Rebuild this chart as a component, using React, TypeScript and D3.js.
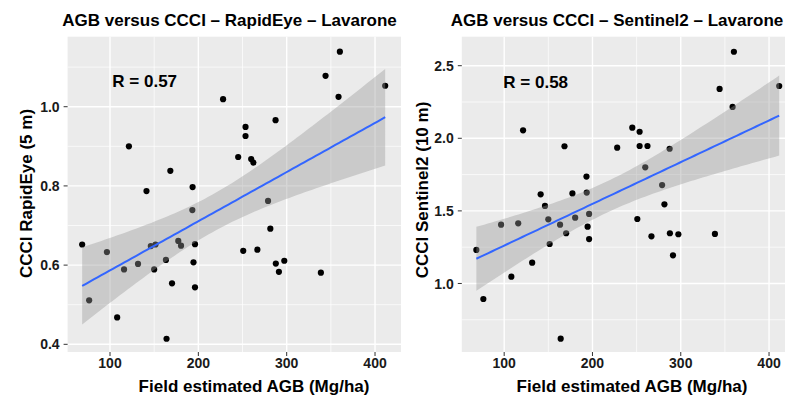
import React from "react";
import * as d3 from "d3";

// field estimated AGB (Mg/ha), one value per plot, shared by both panels
const agb = [
  68.5, 76.4, 96.5, 108.1, 115.9, 121.4, 131.7, 141.3, 146.2, 150.0, 151.5,
  163.3, 164.0, 168.3, 170.2, 177.3, 180.4, 193.2, 193.5, 194.5, 196.2, 196.2,
  228.0, 245.1, 250.8, 253.4, 253.4, 259.8, 262.3, 266.8, 278.9, 281.5, 287.4,
  287.7, 291.2, 297.3, 338.7, 344.0, 358.7, 360.2, 411.5,
];

const ccciRapidEye = [
  0.652, 0.511, 0.633, 0.468, 0.589, 0.9, 0.603, 0.787, 0.648, 0.589, 0.652,
  0.613, 0.414, 0.838, 0.554, 0.661, 0.649, 0.739, 0.797, 0.607, 0.653, 0.544,
  1.019, 0.873, 0.636, 0.949, 0.926, 0.868, 0.859, 0.639, 0.762, 0.692, 0.966,
  0.604, 0.583, 0.611, 0.581, 1.078, 1.025, 1.139, 1.053,
];

const ccciSentinel2 = [
  1.231, 0.893, 1.405, 1.047, 1.414, 2.055, 1.143, 1.614, 1.534, 1.442, 1.272,
  1.405, 0.62, 1.945, 1.346, 1.62, 1.453, 1.736, 1.626, 1.391, 1.479, 1.306,
  1.935, 2.073, 1.444, 2.045, 1.947, 1.8, 1.947, 1.325, 1.678, 1.545, 1.928,
  1.346, 1.194, 1.339, 1.341, 2.34, 2.216, 2.596, 2.36,
];

const xTicks = [100, 200, 300, 400];
const xMinor = [150, 250, 350];
const rapidEyeTicks = [0.4, 0.6, 0.8, 1.0];
const rapidEyeMinor = [0.5, 0.7, 0.9, 1.1];
const sentinelTicks = [1.0, 1.5, 2.0, 2.5];
const sentinelMinor = [0.75, 1.25, 1.75, 2.25];

const FONT = "'Liberation Sans', Arial, sans-serif";

// ordinary least squares + 95% confidence band (like geom_smooth(method = "lm"))
function fitLm(xs: number[], ys: number[]) {
  const n = xs.length;
  const mx = d3.mean(xs)!;
  const my = d3.mean(ys)!;
  let sxx = 0, sxy = 0;
  xs.forEach((x, i) => {
    sxx += (x - mx) ** 2;
    sxy += (x - mx) * (ys[i] - my);
  });
  const b = sxy / sxx;
  const a = my - b * mx;
  const sse = d3.sum(xs, (x, i) => (ys[i] - a - b * x) ** 2);
  const s = Math.sqrt(sse / (n - 2));
  const t = 2.0227; // qt(0.975, 39)
  const grid = d3.range(80).map((i) => {
    const x = d3.min(xs)! + (i / 79) * (d3.max(xs)! - d3.min(xs)!);
    const fit = a + b * x;
    const se = s * Math.sqrt(1 / n + (x - mx) ** 2 / sxx);
    return { x, fit, lo: fit - t * se, hi: fit + t * se };
  });
  return grid;
}

type PanelProps = {
  ys: number[];
  left: number;
  right: number;
  yDomain: [number, number];
  yTicks: number[];
  yMinor: number[];
  title: string;
  titleX: number;
  yTitle: string;
  yTitleX: number;
  yTitleY: number;
  xTitleX: number;
  rLabel: string;
  rLabelX: number;
  rLabelY: number;
};

const TOP = 36.7;
const BOTTOM = 352;

function Panel(p: PanelProps) {
  const x = d3.scaleLinear().domain([52, 429.4]).range([p.left, p.right]);
  const y = d3.scaleLinear().domain(p.yDomain).range([BOTTOM, TOP]);
  const fit = fitLm(agb, p.ys);
  const band = d3
    .area<{ x: number; lo: number; hi: number }>()
    .x((d) => x(d.x))
    .y0((d) => y(d.lo))
    .y1((d) => y(d.hi));
  const line = d3
    .line<{ x: number; fit: number }>()
    .x((d) => x(d.x))
    .y((d) => y(d.fit));
  const clipId = "clip" + Math.round(p.left);

  return (
    <g>
      <defs>
        <clipPath id={clipId}>
          <rect x={p.left} y={TOP} width={p.right - p.left} height={BOTTOM - TOP} />
        </clipPath>
      </defs>
      <rect x={p.left} y={TOP} width={p.right - p.left} height={BOTTOM - TOP} fill="#EBEBEB" />
      {xMinor.map((v) => (
        <line key={"xm" + v} x1={x(v)} x2={x(v)} y1={TOP} y2={BOTTOM} stroke="#fff" strokeWidth={0.7} />
      ))}
      {p.yMinor.map((v) => (
        <line key={"ym" + v} x1={p.left} x2={p.right} y1={y(v)} y2={y(v)} stroke="#fff" strokeWidth={0.7} />
      ))}
      {xTicks.map((v) => (
        <line key={"xg" + v} x1={x(v)} x2={x(v)} y1={TOP} y2={BOTTOM} stroke="#fff" strokeWidth={1.4} />
      ))}
      {p.yTicks.map((v) => (
        <line key={"yg" + v} x1={p.left} x2={p.right} y1={y(v)} y2={y(v)} stroke="#fff" strokeWidth={1.4} />
      ))}
      <g clipPath={`url(#${clipId})`}>
        {agb.map((v, i) => (
          <circle key={i} cx={x(v)} cy={y(p.ys[i])} r={3.1} fill="#000" />
        ))}
        <path d={band(fit)!} fill="#999999" fillOpacity={0.4} />
        <path d={line(fit)!} fill="none" stroke="#3366FF" strokeWidth={2} />
      </g>
      {/* axes */}
      {xTicks.map((v) => (
        <g key={"xt" + v}>
          <line x1={x(v)} x2={x(v)} y1={BOTTOM} y2={BOTTOM + 4} stroke="#333" />
          <text x={x(v)} y={BOTTOM + 16} textAnchor="middle" fontSize={14} fontWeight="bold" fill="#1a1a1a" fontFamily={FONT}>
            {v}
          </text>
        </g>
      ))}
      {p.yTicks.map((v) => (
        <g key={"yt" + v}>
          <line x1={p.left - 4} x2={p.left} y1={y(v)} y2={y(v)} stroke="#333" />
          <text x={p.left - 8} y={y(v)} dy="0.36em" textAnchor="end" fontSize={14} fontWeight="bold" fill="#1a1a1a" fontFamily={FONT}>
            {d3.format(".1f")(v)}
          </text>
        </g>
      ))}
      <text x={p.rLabelX} y={p.rLabelY} fontSize={17} fontWeight="bold" fill="#000" fontFamily={FONT}>
        {p.rLabel}
      </text>
      <text x={p.titleX} y={26} textAnchor="middle" fontSize={17} fontWeight="bold" fill="#000" fontFamily={FONT}>
        {p.title}
      </text>
      <text x={p.xTitleX} y={391.7} textAnchor="middle" fontSize={17} fontWeight="bold" fill="#000" fontFamily={FONT}>
        Field estimated AGB (Mg/ha)
      </text>
      <text
        transform={`translate(${p.yTitleX},${p.yTitleY}) rotate(-90)`}
        textAnchor="middle"
        fontSize={17}
        fontWeight="bold"
        fill="#000"
        fontFamily={FONT}
      >
        {p.yTitle}
      </text>
    </g>
  );
}

export default function App() {
  return (
    <div style={{ position: "absolute", left: 0, top: 0 }}>
      <svg width={785} height={396} style={{ display: "block", background: "#fff" }}>
        <Panel
          ys={ccciRapidEye}
          left={67.6}
          right={401}
          yDomain={[0.3806, 1.1768]}
          yTicks={rapidEyeTicks}
          yMinor={rapidEyeMinor}
          title="AGB versus CCCI – RapidEye – Lavarone"
          titleX={229.5}
          yTitle="CCCI RapidEye (5 m)"
          yTitleX={31.5}
          yTitleY={193.5}
          xTitleX={254}
          rLabel="R = 0.57"
          rLabelX={112.3}
          rLabelY={87.3}
        />
        <Panel
          ys={ccciSentinel2}
          left={461.8}
          right={795}
          yDomain={[0.528, 2.6997]}
          yTicks={sentinelTicks}
          yMinor={sentinelMinor}
          title="AGB versus CCCI – Sentinel2 – Lavarone"
          titleX={617}
          yTitle="CCCI Sentinel2 (10 m)"
          yTitleX={428}
          yTitleY={190}
          xTitleX={632}
          rLabel="R = 0.58"
          rLabelX={503.3}
          rLabelY={88.3}
        />
      </svg>
    </div>
  );
}
